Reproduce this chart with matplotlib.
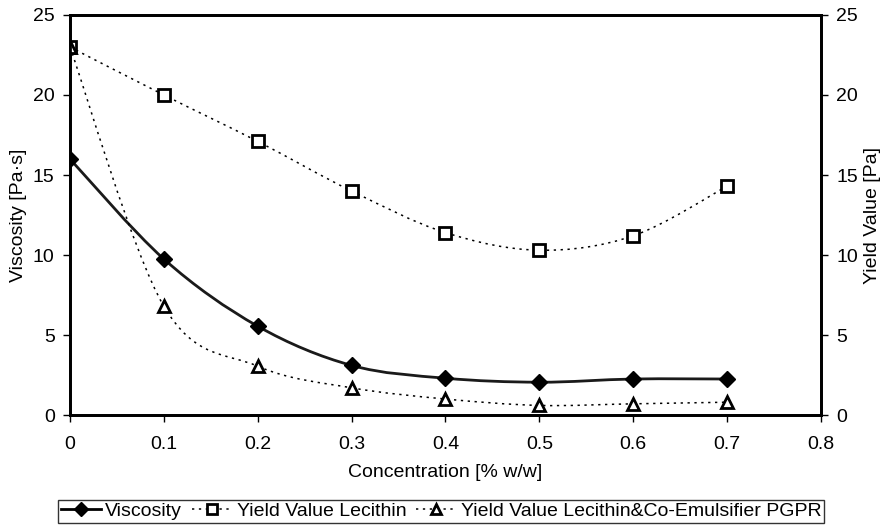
import numpy as np
import matplotlib.pyplot as plt
from matplotlib.path import Path
from matplotlib.patches import PathPatch
from matplotlib.lines import Line2D

plt.rcParams['font.family'] = ['Liberation Sans', 'DejaVu Sans']
plt.rcParams['font.size'] = 14

conc = [0, 0.1, 0.2, 0.3, 0.4, 0.5, 0.6, 0.7]
viscosity = [16.0, 9.75, 5.55, 3.1, 2.3, 2.05, 2.25, 2.25]
yield_lecithin = [23.0, 20.0, 17.1, 14.0, 11.4, 10.3, 11.2, 14.3]
yield_pgpr = [23.0, 6.8, 3.05, 1.7, 1.0, 0.6, 0.7, 0.8]


def smooth_path(x, y):
    # excel-like smoothed line: bezier segments through the points
    pts = np.column_stack([x, y]).astype(float)
    n = len(pts)
    verts = [pts[0]]
    codes = [Path.MOVETO]
    for i in range(n - 1):
        p0 = pts[max(i - 1, 0)]
        p1 = pts[i]
        p2 = pts[i + 1]
        p3 = pts[min(i + 2, n - 1)]
        c1 = p1 + (p2 - p0) / 6.0
        c2 = p2 - (p3 - p1) / 6.0
        verts += [c1, c2, p2]
        codes += [Path.CURVE4] * 3
    return Path(verts, codes)


fig = plt.figure(figsize=(8.89, 5.26), dpi=100)
ax = fig.add_axes([0.0787, 0.211, 0.8448, 0.7605])
ax2 = ax.twinx()

ax.add_patch(PathPatch(smooth_path(conc, viscosity), fill=False, lw=2, ec='#1a1a1a'))
ax.plot(conc, viscosity, ls='none', marker='D', ms=8, color='black')

ax2.add_patch(PathPatch(smooth_path(conc, yield_lecithin), fill=False, lw=1.1,
                        ec='black', ls=(0, (1.5, 3))))
ax2.plot(conc, yield_lecithin, ls='none', marker='s', ms=8, mfc='white', mec='black', mew=2)

ax2.add_patch(PathPatch(smooth_path(conc, yield_pgpr), fill=False, lw=1.1,
                        ec='black', ls=(0, (1.5, 3))))
ax2.plot(conc, yield_pgpr, ls='none', marker='^', ms=8, mfc='white', mec='black', mew=2)

for a in (ax, ax2):
    a.set_xlim(0, 0.8)
    a.set_ylim(0, 25)
    a.set_yticks([0, 5, 10, 15, 20, 25])
    for s in a.spines.values():
        s.set_linewidth(2)
    a.tick_params(direction='out', length=5, width=1, labelsize=14, pad=6)

ax.set_xticks(np.arange(0, 0.81, 0.1))
ax.set_xticklabels(['0', '0.1', '0.2', '0.3', '0.4', '0.5', '0.6', '0.7', '0.8'])
ax.tick_params(axis='x', pad=10)
ax.set_xlabel('Concentration [% w/w]', labelpad=8)
ax.set_ylabel('Viscosity [Pa·s]')
ax2.set_ylabel('Yield Value [Pa]')

handles = [
    Line2D([], [], color='black', lw=2, marker='D', ms=7),
    Line2D([], [], color='black', lw=1.1, ls=(0, (1.5, 3)), marker='s', ms=7,
           mfc='white', mew=2),
    Line2D([], [], color='black', lw=1.1, ls=(0, (1.5, 3)), marker='^', ms=7,
           mfc='white', mew=2),
]
labels = ['Viscosity', 'Yield Value Lecithin', 'Yield Value Lecithin&Co-Emulsifier PGPR']
leg = fig.legend(handles, labels, loc='center', bbox_to_anchor=(0.496, 0.028), ncol=3,
                 frameon=True, fancybox=False, edgecolor='black', handlelength=2.1,
                 handletextpad=0.2, columnspacing=0.5, borderpad=0.15, borderaxespad=0,
                 fontsize=14)
leg.get_frame().set_linewidth(1)

plt.savefig('out.png', dpi=100)
